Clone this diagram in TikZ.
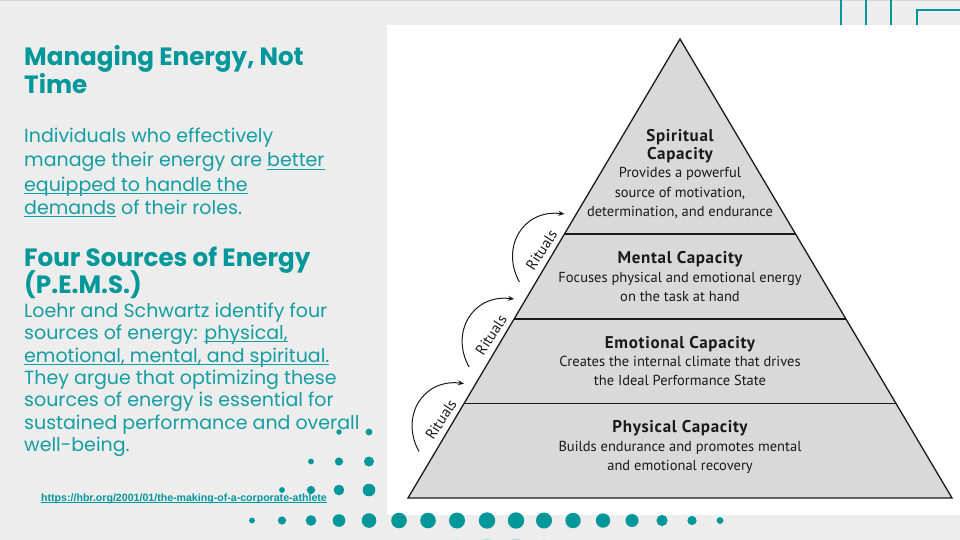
\documentclass[tikz,border=0pt]{standalone}
\usepackage{fontspec}
\setmainfont{PT Sans}
\newfontfamily\montf[FakeStretch=1.0]{Poppins}
\newfontfamily\montbf[FakeStretch=0.985]{Poppins}
\newfontfamily\pyrf{PT Sans}
\newfontfamily\pyrbf[LetterSpace=4]{PT Sans}
\newfontfamily\arialf{Liberation Sans}
\usetikzlibrary{arrows.meta,calc}
\definecolor{bgc}{HTML}{EDEDED}
\definecolor{tealc}{HTML}{00979B}
\definecolor{tealt}{HTML}{139EA3}
\definecolor{pyrfill}{HTML}{D9D9D9}
\definecolor{inkc}{HTML}{1A1A1A}
\newsavebox\ulbox
\newcommand\ulx[2][2.6pt]{\sbox\ulbox{#2}\rlap{\rule[-#1]{\wd\ulbox}{0.9pt}}\usebox\ulbox}
\begin{document}
\begin{tikzpicture}[x=1pt,y=-1pt,
  lefthead/.style={anchor=base west, inner sep=0pt, text=tealc, font=\montbf\bfseries\fontsize{25}{28}\selectfont},
  leftbody/.style={anchor=base west, inner sep=0pt, text=tealt, font=\montf\fontsize{19}{23}\selectfont},
  linkstyle/.style={anchor=base west, inner sep=0pt, text=tealc, font=\arialf\bfseries\fontsize{10.6}{12}\selectfont},
  ptitle/.style={anchor=base, inner sep=0pt, text=inkc, font=\pyrbf\bfseries\fontsize{17}{19}\selectfont},
  pbody/.style={anchor=base, inner sep=0pt, text=inkc, font=\pyrf\fontsize{14.5}{18}\selectfont},
  ritual/.style={inner sep=0pt, text=inkc, rotate=57, font=\pyrf\fontsize{15}{16}\selectfont},
  ritarrow/.style={line width=1pt, draw=inkc, -{Stealth[length=6pt,width=5pt]}},
  pline/.style={line width=1.3pt, draw=inkc},
  tealline/.style={line width=1.6pt, draw=tealc},
  dotc/.style={fill=tealc},
  fadedot/.style={fill=tealc!30}
]
\useasboundingbox (0,0) rectangle (960,540);
\clip (0,0) rectangle (960,540);
% background
\fill[bgc] (0,0) rectangle (960,540);
\fill[black!16] (0,0) rectangle (960,1.2);
\fill[white] (387,25) rectangle (960,515);
% top-right teal lines
\draw[tealline] (841,0) -- (841,25);
\draw[tealline] (866,0) -- (866,25);
\draw[tealline] (891,0) -- (891,25);
\draw[tealline] (917,25) -- (917,10) -- (962,10);
% dots
\foreach \x/\y/\r in {339/432/2.7, 369/432/3.4,
  311/461.5/2.9, 339/461.5/4.1, 369/461.5/5,
  282/490/2.9, 311/490/4.1, 339/490/5.3, 369/490/6.3,
  252/520.5/2.9, 282/520.5/4.1, 311/520.5/5.3, 339/520.5/6.3, 369/520.5/7.3,
  399/520.5/7.8, 428/520.5/7.8, 457/520.5/8, 487/520.5/8.2, 516/520.5/8.2, 544/520.5/8,
  573/520.5/7.7, 603/520.5/7.2, 632/520.5/6.5, 662/520.5/5.6, 692/520.5/4.6, 720/520.5/3.4}
  {\fill[dotc] (\x,\y) circle[radius=\r pt];}
\foreach \x/\r in {428/4, 457/6.5, 487/7.5, 516/7.5, 544/6.5}
  {\fill[fadedot] (\x,546) circle[radius=\r pt];}
% left texts
\node[lefthead] (h1a) at (24,66) {Managing Energy, Not};
\node[lefthead] (h1b) at (24,94) {Time};
\node[leftbody] (b1a) at (24,143) {Individuals who effectively};
\node[leftbody] (b1b) at (24,167) {manage their energy are \ulx{better}};
\node[leftbody] (b1c) at (24,191) {\ulx{equipped to handle the}};
\node[leftbody] (b1d) at (24,214) {\ulx{demands} of their roles.};
\node[lefthead] (h2a) at (24,266) {Four Sources of Energy};
\node[lefthead] (h2b) at (24,293) {(P.E.M.S.)};
\node[leftbody] (b2a) at (24,317) {Loehr and Schwartz identify four};
\node[leftbody] (b2b) at (24,339.5) {sources of energy: \ulx{physical,}};
\node[leftbody] (b2c) at (24,362) {\ulx{emotional, mental, and spiritual.}};
\node[leftbody] (b2d) at (24,384) {They argue that optimizing these};
\node[leftbody] (b2e) at (24,406.5) {sources of energy is essential for};
\node[leftbody] (b2f) at (24,429) {sustained performance and overall};
\node[leftbody] (b2g) at (24,451) {well-being.};
\node[linkstyle] (url) at (41,501) {\ulx[1.8pt]{https://hbr.org/2001/01/the-making-of-a-corporate-athlete}};
% pyramid
\coordinate (apex) at (680,39);
\coordinate (bl) at (408,498);
\coordinate (br) at (952,498);
\fill[pyrfill] (apex) -- (br) -- (bl) -- cycle;
\coordinate (l1) at ($(apex)!0.42484!(bl)$);
\coordinate (r1) at ($(apex)!0.42484!(br)$);
\coordinate (l2) at ($(apex)!0.61002!(bl)$);
\coordinate (r2) at ($(apex)!0.61002!(br)$);
\coordinate (l3) at ($(apex)!0.79412!(bl)$);
\coordinate (r3) at ($(apex)!0.79412!(br)$);
\draw[pline] (l1) -- (r1);
\draw[pline] (l2) -- (r2);
\draw[pline] (l3) -- (r3);
\draw[pline, line join=miter] (apex) -- (br) -- (bl) -- cycle;
% pyramid texts
\node[ptitle] (s1) at (680,141.5) {Spiritual};
\node[ptitle] (s2) at (680,159.5) {Capacity};
\node[pbody] (s3) at (680,177.7) {Provides a powerful};
\node[pbody] (s4) at (680,197.3) {source of motivation,};
\node[pbody] (s5) at (680,216.7) {determination, and endurance};
\node[ptitle] (m1) at (680,263.3) {Mental Capacity};
\node[pbody] (m2) at (680,282.7) {Focuses physical and emotional energy};
\node[pbody] (m3) at (680,301.7) {on the task at hand};
\node[ptitle] (e1) at (680,348.3) {Emotional Capacity};
\node[pbody] (e2) at (680,366.7) {Creates the internal climate that drives};
\node[pbody] (e3) at (680,385.7) {the Ideal Performance State};
\node[ptitle] (p1) at (680,432.7) {Physical Capacity};
\node[pbody] (p2) at (680,451.7) {Builds endurance and promotes mental};
\node[pbody] (p3) at (680,470.7) {and emotional recovery};
% rituals arrows
\foreach \k in {1,2,3}{
  \coordinate (rs\k) at ($(l\k)+(-45,48)$);
  \coordinate (re\k) at ($(l\k)+(0,-20)$);
  \draw[ritarrow] (rs\k) .. controls ($(l\k)+(-64,14)$) and ($(l\k)+(-42,-25)$) .. (re\k);
  \node[ritual] (rl\k) at ($(l\k)+(-23,16)$) {Rituals};
}
\end{tikzpicture}
\end{document}
